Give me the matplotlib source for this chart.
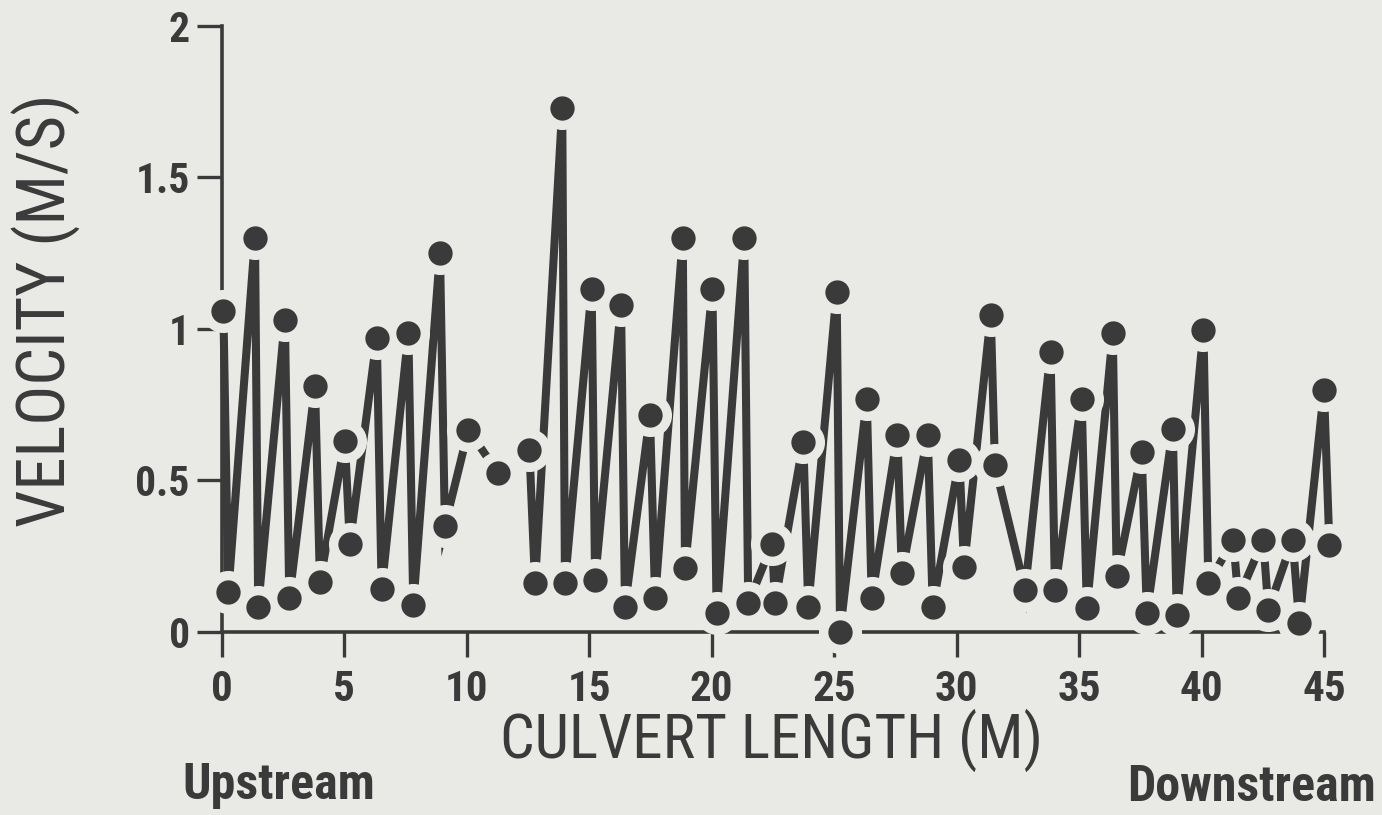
import numpy as np
import matplotlib
matplotlib.use("Agg")
import matplotlib.pyplot as plt

# culvert length (m) and velocity (m/s)
length = [0.07, 0.27, 1.36, 1.49, 2.58, 2.76, 3.81, 4.01, 5.03, 5.23,
          6.33, 6.53, 7.62, 7.82, 8.91, 9.11, 10.07, 11.29, 12.56, 12.79,
          13.9, 14.01, 15.10, 15.24, 16.30, 16.46, 17.48, 17.69, 18.82, 18.91,
          20.03, 20.20, 21.33, 21.49, 22.47, 22.58, 23.74, 23.94, 25.10, 25.24,
          26.33, 26.53, 27.58, 27.76, 28.82, 29.02, 30.11, 30.30, 31.39, 31.56,
          32.79, 33.83, 34.01, 35.10, 35.31, 36.37, 36.53, 37.55, 37.76, 38.82,
          38.98, 40.07, 40.27, 41.29, 41.49, 42.51, 42.72, 43.71, 43.98, 44.99,
          45.21]
velocity = [1.06, 0.13, 1.30, 0.083, 1.03, 0.11, 0.81, 0.165, 0.63, 0.29,
            0.97, 0.14, 0.985, 0.088, 1.25, 0.35, 0.666, 0.523, 0.60, 0.16,
            1.727, 0.16, 1.13, 0.17, 1.078, 0.083, 0.715, 0.11, 1.30, 0.209,
            1.13, 0.061, 1.30, 0.094, 0.29, 0.094, 0.627, 0.083, 1.122, 0.0,
            0.767, 0.11, 0.649, 0.193, 0.649, 0.083, 0.567, 0.215, 1.045, 0.55,
            0.138, 0.924, 0.138, 0.767, 0.077, 0.985, 0.184, 0.594, 0.061, 0.668,
            0.055, 0.996, 0.16, 0.303, 0.11, 0.303, 0.072, 0.303, 0.028, 0.798,
            0.286]
xticks = [0, 5, 10, 15, 20, 25, 30, 35, 40, 45]
yticks = [0, 0.5, 1, 1.5, 2]
ytick_labels = ["0", "0.5", "1", "1.5", "2"]

bg = "#e9e9e6"
ink = "#3a3a3a"
fam = ["Roboto Condensed", "DejaVu Sans"]
fs = dict(family=fam, fontstretch="condensed", color=ink)

fig = plt.figure(figsize=(13.82, 8.15), dpi=100, facecolor=bg)
ax = fig.add_axes([0.1604, 0.2249, 0.7978, 0.7436])
ax.set_facecolor(bg)

ax.plot(length, velocity, color=ink, lw=5.8, solid_joinstyle="miter",
        clip_on=False, zorder=3)
# paper-coloured halo so the line stops short of every dot, like the ink drawing
ax.plot(length, velocity, ls="none", marker="o", ms=31, mfc=bg, mec="none",
        clip_on=False, zorder=4)
ax.plot(length, velocity, ls="none", marker="o", ms=17.5, mfc=ink, mec="none",
        clip_on=False, zorder=5)

ax.set_xlim(0, 45)
ax.set_ylim(0, 2)
for s in ["top", "right"]:
    ax.spines[s].set_visible(False)
for s in ["left", "bottom"]:
    ax.spines[s].set_color(ink)
    ax.spines[s].set_linewidth(2.6)
    ax.spines[s].set_zorder(2)

ax.set_xticks(xticks)
ax.set_xticklabels([str(t) for t in xticks], fontsize=31, fontweight="bold", **fs)
ax.set_yticks(yticks)
ax.set_yticklabels(ytick_labels, fontsize=30, fontweight="bold", **fs)
ax.tick_params(axis="both", length=18, width=2.4, color=ink)
ax.tick_params(axis="x", pad=9)
ax.tick_params(axis="y", pad=5)

fig.text(772 / 1382, 1 - 740 / 815, "CULVERT LENGTH (M)", fontsize=44,
         ha="center", va="center", **fs)
fig.text(46 / 1382, 1 - 310 / 815, "VELOCITY (M/S)", fontsize=48,
         rotation=90, ha="center", va="center", **fs)

fig.text(182 / 1382, 1 - 799 / 815, "Upstream", fontsize=36,
         fontweight="bold", ha="left", va="baseline", **fs)
fig.text(1376 / 1382, 1 - 801 / 815, "Downstream", fontsize=36,
         fontweight="bold", ha="right", va="baseline", **fs)

fig.savefig("out.png", dpi=100, facecolor=bg)
